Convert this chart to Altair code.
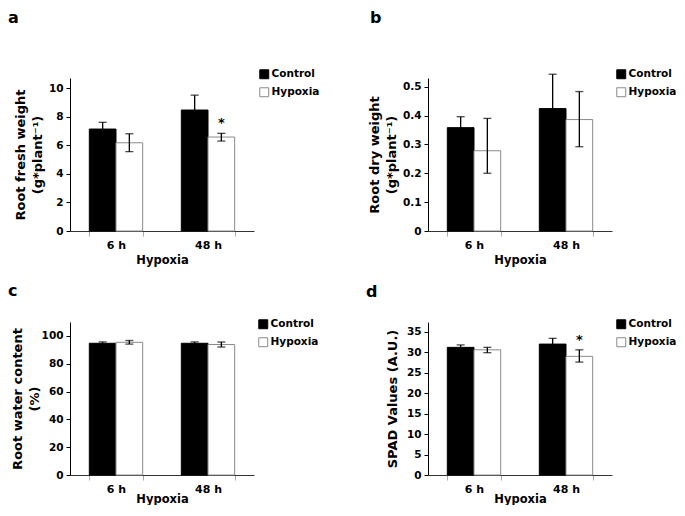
import altair as alt
import pandas as pd

FONT = "DejaVu Sans"
TIMES = ["6 h", "48 h"]
GROUPS = ["Control", "Hypoxia"]

# Panel a: root fresh weight
a_ctrl = [7.13, 8.46]
a_ctrl_lo = [6.66, 7.42]
a_ctrl_hi = [7.60, 9.50]
a_hyp = [6.17, 6.57]
a_hyp_lo = [5.55, 6.29]
a_hyp_hi = [6.80, 6.83]
a_star = ["", "*"]

# Panel b: root dry weight
b_ctrl = [0.358, 0.424]
b_ctrl_lo = [0.320, 0.305]
b_ctrl_hi = [0.396, 0.543]
b_hyp = [0.278, 0.386]
b_hyp_lo = [0.200, 0.292]
b_hyp_hi = [0.390, 0.483]
b_star = ["", ""]

# Panel c: root water content
c_ctrl = [94.7, 94.7]
c_ctrl_lo = [93.7, 93.7]
c_ctrl_hi = [95.7, 95.7]
c_hyp = [95.4, 93.8]
c_hyp_lo = [94.1, 92.0]
c_hyp_hi = [96.7, 95.6]
c_star = ["", ""]

# Panel d: SPAD values
d_ctrl = [31.2, 32.0]
d_ctrl_lo = [30.6, 30.6]
d_ctrl_hi = [31.8, 33.4]
d_hyp = [30.6, 29.0]
d_hyp_lo = [29.9, 27.6]
d_hyp_hi = [31.2, 30.6]
d_star = ["", "*"]


def frame(ctrl, ctrl_lo, ctrl_hi, hyp, hyp_lo, hyp_hi, star):
    rows = []
    for i, t in enumerate(TIMES):
        rows.append(dict(time=t, group="Control", value=ctrl[i], lo=ctrl_lo[i], hi=ctrl_hi[i], star=""))
        rows.append(dict(time=t, group="Hypoxia", value=hyp[i], lo=hyp_lo[i], hi=hyp_hi[i], star=star[i]))
    return pd.DataFrame(rows)


W = 184


def panel(letter, df, ytitle, ymax, yticks, height, lx, ly, tdx, tdy, xtpad, ytpad, lexpr=None):
    xaxis = alt.Axis(
        title="Hypoxia", labelAngle=0, tickBand="extent", tickSize=5, grid=False,
        tickColor="#aaaaaa", domainColor="#333333", labelPadding=3,
        labelFont=FONT, labelFontSize=11, labelFontWeight="bold", labelColor="black",
        titleFont=FONT, titleFontSize=11.5, titleFontWeight="bold", titleColor="black",
        titlePadding=xtpad,
    )
    xenc = alt.X("time:N", sort=TIMES,
                 scale=alt.Scale(paddingInner=0.42, paddingOuter=0.21), axis=xaxis)
    xoff = alt.XOffset("group:N", sort=GROUPS, scale=alt.Scale(paddingInner=0, paddingOuter=0))
    yscale = alt.Scale(domain=[0, ymax], nice=False, zero=True)
    yargs = dict(
        title=ytitle, values=yticks, grid=False, tickSize=4, tickColor="black",
        domainColor="black", labelPadding=3, labelOverlap=False,
        labelFont=FONT, labelFontSize=10.5, labelFontWeight="bold", labelColor="black",
        titleFont=FONT, titleFontSize=13, titleFontWeight="bold", titleColor="black",
        titleLineHeight=17, titlePadding=ytpad,
    )
    if lexpr:
        yargs["labelExpr"] = lexpr
    yaxis = alt.Axis(**yargs)

    def y(field):
        return alt.Y(field, scale=yscale, axis=yaxis, title=ytitle)

    base = alt.Chart(df)
    bars = base.mark_bar(strokeWidth=1).encode(
        x=xenc, xOffset=xoff, y=y("value:Q"),
        fill=alt.Fill(
            "group:N", sort=GROUPS,
            scale=alt.Scale(domain=GROUPS, range=["black", "white"]),
            legend=alt.Legend(
                title=None, orient="none", legendX=lx, legendY=ly,
                symbolType="square", symbolSize=80, symbolStrokeColor="black",
                symbolStrokeWidth=1, labelFont=FONT, labelFontSize=10.5,
                labelFontWeight="bold", labelColor="black", rowPadding=4,
                labelOffset=2, padding=0,
            ),
        ),
        stroke=alt.Stroke(
            "group:N", scale=alt.Scale(domain=GROUPS, range=["black", "#8a8a8a"]),
            legend=None,
        ),
    )
    rules = base.mark_rule(color="black", strokeWidth=1.3).encode(
        x=xenc, xOffset=xoff, y=y("lo:Q"), y2="hi:Q",
    )
    cap_lo = base.mark_tick(color="black", size=8, thickness=1.3).encode(
        x=xenc, xOffset=xoff, y=y("lo:Q"),
    )
    cap_hi = base.mark_tick(color="black", size=8, thickness=1.3).encode(
        x=xenc, xOffset=xoff, y=y("hi:Q"),
    )
    stars = base.transform_filter(alt.datum.star != "").mark_text(
        font=FONT, fontSize=13, fontWeight="bold", color="black", dy=-10, baseline="middle",
    ).encode(x=xenc, xOffset=xoff, y=y("hi:Q"), text="star:N")
    return alt.layer(bars, rules, cap_lo, cap_hi, stars).properties(
        width=W, height=height,
        title=alt.TitleParams(
            text=letter, anchor="start", frame="group", dx=tdx, dy=tdy, offset=0,
            font=FONT, fontSize=16, fontWeight="bold", color="black",
        ),
    )


pa = panel("a", frame(a_ctrl, a_ctrl_lo, a_ctrl_hi, a_hyp, a_hyp_lo, a_hyp_hi, a_star),
           ["Root fresh weight", "(g*plant⁻¹)"], 10.7, [0, 2, 4, 6, 8, 10], 153,
           W + 5, -9, -62, -43, 4, 4)
pb = panel("b", frame(b_ctrl, b_ctrl_lo, b_ctrl_hi, b_hyp, b_hyp_lo, b_hyp_hi, b_star),
           ["Root dry weight", "(g*plant⁻¹)"], 0.53, [0, 0.1, 0.2, 0.3, 0.4, 0.5], 153,
           W + 4, -9, -58, -43, 4, 4,
           lexpr="datum.value === 0 ? '0' : format(datum.value, '.1f')")
pc = panel("c", frame(c_ctrl, c_ctrl_lo, c_ctrl_hi, c_hyp, c_hyp_lo, c_hyp_hi, c_star),
           ["Root water content", "(%)"], 110, [0, 20, 40, 60, 80, 100], 153,
           W + 4, -3, -62, -20, -1, 0)
pd_ = panel("d", frame(d_ctrl, d_ctrl_lo, d_ctrl_hi, d_hyp, d_hyp_lo, d_hyp_hi, d_star),
            "SPAD Values (A.U.)", 37.4, [0, 5, 10, 15, 20, 25, 30, 35], 153,
            W + 4, -3, -62, -19, -1, 7)

chart = alt.concat(
    pa, pb, pc, pd_, columns=2, bounds="flush",
    spacing=alt.RowColnumber(row=91, column=174),
).resolve_scale(fill="independent", stroke="independent").resolve_legend(
    fill="independent").properties(
    padding={"top": 2, "left": 0, "right": 0, "bottom": 0}).configure(
    font=FONT,
    view=alt.ViewConfig(stroke="transparent", strokeWidth=0),
    axis=alt.AxisConfig(grid=False),
)

chart.save("out.html", embed_options={"renderer": "svg", "actions": False})
